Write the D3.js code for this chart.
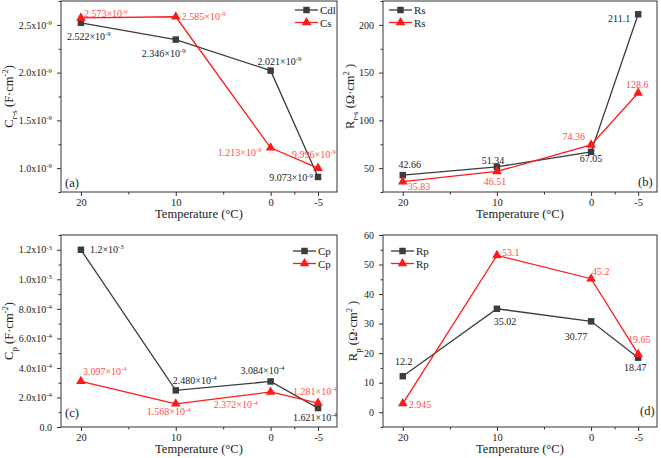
<!DOCTYPE html>
<html><head><meta charset="utf-8">
<script src="https://cdn.jsdelivr.net/npm/d3@7"></script>
<style>
html,body{margin:0;padding:0;background:#fff;}
svg{display:block;}
svg text{font-family:"Liberation Serif","Times New Roman",Times,serif;}
</style></head>
<body><svg id="c" width="661" height="458"></svg>
<script>
// ---- data ----
const temperatures = [20, 10, 0, -5];
const xTickValues = [20, 10, 0, -5];
const xTickLabels = ["20", "10", "0", "-5"];
const xMinorTicks = [15, 5, -2.5];

// (a) capacitance Cdl / Cs
const cdlValues = [2.522e-9, 2.346e-9, 2.021e-9, 9.073e-10];
const csValues  = [2.573e-9, 2.585e-9, 1.213e-9, 9.996e-10];
const cdlLabels = ["2.522×10^-9", "2.346×10^-9", "2.021×10^-9", "9.073×10^-9"];
const csLabels  = ["2.573×10^-9", "2.585×10^-9", "1.213×10^-9", "9.996×10^-9"];
const yTicksA = [1.0e-9, 1.5e-9, 2.0e-9, 2.5e-9];

// (b) resistance Rs
const rsBlack = [42.66, 51.34, 67.05, 211.1];
const rsRed   = [35.83, 46.51, 74.36, 128.6];
const rsBlackLabels = ["42.66", "51.34", "67.05", "211.1"];
const rsRedLabels   = ["35.83", "46.51", "74.36", "128.6"];
const yTicksB = [50, 100, 150, 200];

// (c) capacitance Cp
const cpBlack = [1.2e-3, 2.480e-4, 3.084e-4, 1.281e-4];
const cpRed   = [3.097e-4, 1.568e-4, 2.372e-4, 1.621e-4];
const cpBlackLabels = ["1.2×10^-3", "2.480×10^-4", "3.084×10^-4", "1.621×10^-4"];
const cpRedLabels   = ["3.097×10^-4", "1.568×10^-4", "2.372×10^-4", "1.281×10^-4"];
const yTicksC = [0, 2e-4, 4e-4, 6e-4, 8e-4, 1.0e-3, 1.2e-3];

// (d) resistance Rp
const rpBlack = [12.2, 35.02, 30.77, 18.47];
const rpRed   = [2.945, 53.1, 45.2, 19.65];
const rpBlackLabels = ["12.2", "35.02", "30.77", "18.47"];
const rpRedLabels   = ["2.945", "53.1", "45.2", "19.65"];
const yTicksD = [0, 10, 20, 30, 40, 50, 60];

// ---- styles / layout ----
const BLACK = "#3c3c3c", RED = "#ff1a1a", RED_TXT = "#ff4d4d", TXT = "#1a1a1a";
const FONT = "Liberation Serif";
const svg = d3.select("#c");

function richText(sel, str, size) {
  const parts = str.split("^");
  sel.text(null);
  sel.append("tspan").text(parts[0]);
  if (parts.length > 1) {
    sel.append("tspan").attr("dy", -size * 0.38).attr("font-size", size * 0.68).text(parts[1]);
  }
}

function sciTick(v) {
  if (v === 0) return "0.0";
  const s = d3.format(".1e")(v);
  const [m, e] = s.split("e");
  return m + "x10^" + e.replace("−", "-");
}

function panel(cfg) {
  const g = svg.append("g");
  const x = d3.scaleLinear().domain([22.1, -7.0]).range([cfg.x0, cfg.x1]);
  const y = d3.scaleLinear().domain(cfg.yDomain).range([cfg.y1, cfg.y0]);

  g.append("rect").attr("x", cfg.x0).attr("y", cfg.y0)
    .attr("width", cfg.x1 - cfg.x0).attr("height", cfg.y1 - cfg.y0)
    .attr("fill", "none").attr("stroke", "#333").attr("stroke-width", 1);

  const xa = g.append("g").attr("transform", `translate(0,${cfg.y1})`)
    .call(d3.axisBottom(x).tickValues(xTickValues).tickSize(4)
      .tickFormat((d, i) => xTickLabels[i]));
  xa.attr("font-family", FONT);
  xa.select(".domain").remove();
  xa.selectAll("text").attr("font-family", FONT).attr("font-size", 10.5).attr("fill", TXT);
  xa.selectAll("line").attr("stroke", "#333");
  const xm = g.append("g").attr("transform", `translate(0,${cfg.y1})`)
    .call(d3.axisBottom(x).tickValues(xMinorTicks).tickSize(2.5).tickFormat(""));
  xm.select(".domain").remove();
  xm.selectAll("line").attr("stroke", "#333");

  const ya = g.append("g").attr("transform", `translate(${cfg.x0},0)`)
    .call(d3.axisLeft(y).tickValues(cfg.yTicks).tickSize(4).tickPadding(5));
  ya.attr("font-family", FONT);
  ya.select(".domain").remove();
  ya.selectAll("line").attr("stroke", "#333");
  ya.selectAll("text").attr("font-family", FONT).attr("font-size", 10).attr("fill", TXT)
    .each(function(d) { richText(d3.select(this), cfg.tickFmt(d), 10); });
  const step = cfg.yTicks[1] - cfg.yTicks[0];
  const minor = [];
  for (let v = cfg.yDomain[0]; v <= cfg.yDomain[1] + 1e-15; v += step / 2) {
    minor.push(Math.round(v / (step / 2)) * step / 2);
  }
  const ym = g.append("g").attr("transform", `translate(${cfg.x0},0)`)
    .call(d3.axisLeft(y).tickValues(minor.filter(v => !cfg.yTicks.some(t => Math.abs(t - v) < step * 1e-6))).tickSize(2.5).tickFormat(""));
  ym.select(".domain").remove();
  ym.selectAll("line").attr("stroke", "#333");

  g.append("text").attr("x", (cfg.x0 + cfg.x1) / 2).attr("y", cfg.y1 + 26)
    .attr("text-anchor", "middle").attr("font-size", 12.5).attr("fill", TXT)
    .text("Temperature (°C)");
  const yt = g.append("text")
    .attr("transform", `translate(${cfg.x0 + cfg.yTitleDx},${(cfg.y0 + cfg.y1) / 2}) rotate(-90)`)
    .attr("text-anchor", "middle").attr("font-size", 12.5).attr("fill", TXT);
  cfg.yTitle.forEach(p => {
    const t = yt.append("tspan").text(p.t);
    if (p.sub) t.attr("font-size", 9).attr("dy", 4);
    if (p.sup) t.attr("font-size", 8.5).attr("dy", -5);
    if (p.reset) t.attr("dy", p.reset);
  });

  const line = d3.line().x((d, i) => x(temperatures[i])).y(d => y(d));
  const series = [
    { vals: cfg.black, col: BLACK, sym: d3.symbolSquare, size: 42, labels: cfg.blackLabels, off: cfg.blackOff, tcol: TXT },
    { vals: cfg.red, col: RED, sym: d3.symbolTriangle, size: 40, labels: cfg.redLabels, off: cfg.redOff, tcol: RED_TXT }
  ];
  series.forEach(s => {
    g.append("path").datum(s.vals).attr("d", line).attr("fill", "none")
      .attr("stroke", s.col).attr("stroke-width", 1.3);
    g.selectAll(null).data(s.vals).enter().append("path")
      .attr("transform", (d, i) => `translate(${x(temperatures[i])},${y(d)})`)
      .attr("d", d3.symbol().type(s.sym).size(s.size)).attr("fill", s.col);
  });
  series.forEach(s => {
    s.vals.forEach((d, i) => {
      const o = s.off[i];
      const t = g.append("text").attr("x", x(temperatures[i]) + o[0]).attr("y", y(d) + o[1] + 3.5)
        .attr("text-anchor", o[2] || "start").attr("font-size", 10).attr("fill", s.tcol);
      richText(t, s.labels[i], 10);
    });
  });

  cfg.legend.forEach((name, k) => {
    const ly = cfg.legY + k * 12.5;
    const c = k === 0 ? BLACK : RED;
    g.append("line").attr("x1", cfg.legX).attr("x2", cfg.legX + 23).attr("y1", ly).attr("y2", ly)
      .attr("stroke", c).attr("stroke-width", 1.3);
    g.append("path").attr("transform", `translate(${cfg.legX + 11.5},${ly})`)
      .attr("d", d3.symbol().type(k === 0 ? d3.symbolSquare : d3.symbolTriangle).size(k === 0 ? 42 : 40)).attr("fill", c);
    g.append("text").attr("x", cfg.legX + 25).attr("y", ly + 4).attr("font-size", 11).attr("fill", TXT).text(name);
  });

  g.append("text").attr("x", cfg.letX).attr("y", cfg.letY).attr("font-size", 12.5).attr("fill", TXT).text(cfg.letter);
}

panel({
  x0: 61, x1: 337, y0: 1, y1: 192, yDomain: [0.75e-9, 2.75e-9], yTicks: yTicksA, tickFmt: sciTick,
  yTitleDx: -48,
  yTitle: [{ t: "C" }, { t: "r-s", sub: true }, { t: " (F·cm", reset: -4 }, { t: "-2", sup: true }, { t: ")", reset: 5 }],
  black: cdlValues, red: csValues, blackLabels: cdlLabels, redLabels: csLabels,
  blackOff: [[-14, 14], [-34, 14], [-13, -9], [-5, 1, "end"]],
  redOff: [[3, -4], [6, 0], [-9, 5, "end"], [-26, -14]],
  legend: ["Cdl", "Cs"], legX: 295, legY: 10, letter: "(a)", letX: 65, letY: 187
});

panel({
  x0: 383, x1: 657, y0: 1, y1: 192, yDomain: [25, 225], yTicks: yTicksB, tickFmt: d => String(d),
  yTitleDx: -29,
  yTitle: [{ t: "R" }, { t: "r-s", sub: true }, { t: " (Ω·cm", reset: -4 }, { t: "2", sup: true }, { t: " )", reset: 5 }],
  black: rsBlack, red: rsRed, blackLabels: rsBlackLabels, redLabels: rsRedLabels,
  blackOff: [[7, -11, "middle"], [-4, -6, "middle"], [0, 7, "middle"], [-8, 4, "end"]],
  redOff: [[5, 5], [-2, 10, "middle"], [-6, -8, "end"], [-1, -9, "middle"]],
  legend: ["Rs", "Rs"], legX: 389, legY: 10, letter: "(b)", letX: 638, letY: 186
});

panel({
  x0: 61, x1: 337, y0: 235, y1: 427, yDomain: [0, 1.3e-3], yTicks: yTicksC, tickFmt: sciTick,
  yTitleDx: -48,
  yTitle: [{ t: "C" }, { t: "p", sub: true }, { t: " (F·cm", reset: -4 }, { t: "-2", sup: true }, { t: ")", reset: 5 }],
  black: cpBlack, red: cpRed, blackLabels: cpBlackLabels, redLabels: cpRedLabels,
  blackOff: [[9, 0], [-3, -10], [-30, -11], [-25, 9]],
  redOff: [[2, -10], [-29, 8], [-13, 13, "end"], [-25, -12]],
  legend: ["Cp", "Cp"], legX: 293, legY: 251, letter: "(c)", letX: 65, letY: 417
});

panel({
  x0: 383, x1: 657, y0: 235, y1: 427, yDomain: [-5, 60], yTicks: yTicksD, tickFmt: d => String(d),
  yTitleDx: -26,
  yTitle: [{ t: "R" }, { t: "p", sub: true }, { t: " (Ω·cm", reset: -4 }, { t: "2", sup: true }, { t: " )", reset: 5 }],
  black: rpBlack, red: rpRed, blackLabels: rpBlackLabels, redLabels: rpRedLabels,
  blackOff: [[1, -15, "middle"], [8, 13, "middle"], [-15, 15, "middle"], [-3, 10, "middle"]],
  redOff: [[6, 1], [5, -3], [1, -7], [1, -15, "middle"]],
  legend: ["Rp", "Rp"], legX: 391, legY: 251, letter: "(d)", letX: 640, letY: 415
});
</script></body></html>
